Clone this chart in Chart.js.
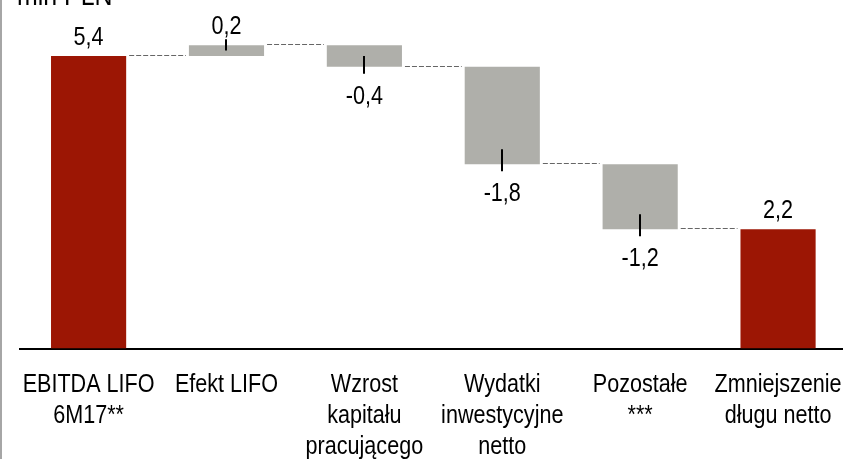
<!DOCTYPE html>
<html>
<head>
<meta charset="utf-8">
<script src="https://cdn.jsdelivr.net/npm/chart.js@4.4.0/dist/chart.umd.min.js"></script>
<style>
  html, body { margin: 0; padding: 0; background: #fff; overflow: hidden; }
  #wrap { position: relative; width: 843px; height: 459px; overflow: hidden; }
  #frame { position: absolute; left: 0; top: 0; width: 2px; height: 459px; background: #a6a6a6; }
  canvas { position: absolute; left: 0; top: 0; }
</style>
</head>
<body>
<div id="wrap">
  <canvas id="chart" width="847" height="459"></canvas>
  <div id="frame"></div>
</div>
<script>
const categories = [
  ['EBITDA LIFO', '6M17**'],
  ['Efekt LIFO'],
  ['Wzrost', 'kapitału', 'pracującego'],
  ['Wydatki', 'inwestycyjne', 'netto'],
  ['Pozostałe', '***'],
  ['Zmniejszenie', 'długu netto']
];
const values = [5.4, 0.2, -0.4, -1.8, -1.2, 2.2];
const isTotal = [true, false, false, false, false, true];
const unitLabel = 'mln PLN';
const yMax = 6;

// no narrow face installed: Liberation Sans squeezed horizontally stands in for Arial Narrow
const FONT = "'Liberation Sans', Arial, sans-serif";
const NARROW = 0.83;
const RED = '#9c1604';
const GRAY = '#afafaa';

// floating ranges for the waterfall
let run = 0;
const ranges = values.map((v, i) => {
  if (isTotal[i]) { run = v; return [0, v]; }
  const r = [run, run + v];
  run += v;
  return r;
});

const fmt = v => v.toFixed(1).replace('.', ',');

function narrowText(ctx, text, x, y) {
  ctx.save();
  ctx.translate(x, y);
  ctx.scale(NARROW, 1);
  ctx.fillText(text, 0, 0);
  ctx.restore();
}

const waterfall = {
  id: 'waterfall',
  afterDatasetsDraw(chart) {
    const ctx = chart.ctx;
    const bars = chart.getDatasetMeta(0).data;
    const x = chart.scales.x;
    const y = chart.scales.y;
    ctx.save();

    // dashed connectors
    ctx.strokeStyle = '#666';
    ctx.lineWidth = 1;
    ctx.setLineDash([5, 2]);
    for (let i = 0; i < bars.length - 1; i++) {
      const a = bars[i], b = bars[i + 1];
      const lvl = Math.round(y.getPixelForValue(ranges[i][1])) - 0.5;
      ctx.beginPath();
      ctx.moveTo(a.x + a.width / 2 + 3, lvl);
      ctx.lineTo(b.x - b.width / 2 - 3, lvl);
      ctx.stroke();
    }
    ctx.setLineDash([]);

    // leader ticks and value labels
    ctx.fillStyle = '#000';
    ctx.strokeStyle = '#000';
    ctx.lineWidth = 2;
    ctx.font = '26px ' + FONT;
    ctx.textAlign = 'center';
    ctx.textBaseline = 'alphabetic';
    bars.forEach((bar, i) => {
      const top = Math.min(bar.y, bar.base);
      const bottom = Math.max(bar.y, bar.base);
      const mid = (top + bottom) / 2;
      const v = values[i];
      if (!isTotal[i]) {
        ctx.beginPath();
        if (v > 0) {
          ctx.moveTo(Math.round(bar.x), top - 6);
          ctx.lineTo(Math.round(bar.x), Math.min(top + 15, mid));
        } else {
          ctx.moveTo(Math.round(bar.x), Math.max(bottom - 15, mid));
          ctx.lineTo(Math.round(bar.x), bottom + 7);
        }
        ctx.stroke();
      }
      if (v >= 0) narrowText(ctx, fmt(v), bar.x, top - 11);
      else narrowText(ctx, fmt(v), bar.x, bottom + 37);
    });

    // category labels under the axis
    categories.forEach((lines, i) => {
      const px = x.getPixelForTick(i);
      lines.forEach((line, j) => narrowText(ctx, line, px, x.top + 43 + j * 31));
    });

    // unit label, partly cut off at the top
    ctx.textAlign = 'left';
    ctx.font = '30px ' + FONT;
    narrowText(ctx, unitLabel, 17, 5);
    ctx.restore();
  }
};

new Chart(document.getElementById('chart'), {
  type: 'bar',
  data: {
    labels: categories,
    datasets: [{
      data: ranges,
      backgroundColor: isTotal.map(t => t ? RED : GRAY),
      borderWidth: 0,
      barPercentage: 1,
      categoryPercentage: 0.545
    }]
  },
  options: {
    responsive: false,
    animation: false,
    devicePixelRatio: 1,
    layout: { padding: { left: 19.65, right: 0, top: 23.5, bottom: 0 } },
    plugins: {
      legend: { display: false },
      tooltip: { enabled: false },
      title: { display: false }
    },
    scales: {
      x: {
        grid: { display: false, drawTicks: false },
        border: { display: true, color: '#000', width: 2 },
        ticks: { display: false },
        afterFit(s) { s.height = 110.5; }
      },
      y: { display: false, min: 0, max: yMax }
    }
  },
  plugins: [waterfall]
});
</script>
</body>
</html>
